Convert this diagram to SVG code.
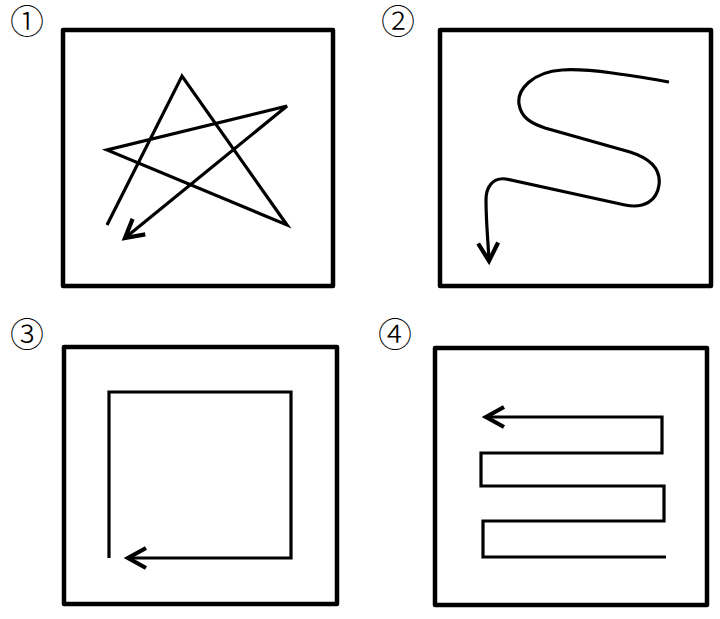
<svg xmlns="http://www.w3.org/2000/svg" width="720" height="619" viewBox="0 0 720 619">
<style>
.frame{fill:none;stroke:#000;stroke-width:4.5;stroke-linejoin:round}
.route{fill:none;stroke:#000;stroke-width:3.2;stroke-linejoin:miter;marker-end:url(#arr)}
.num{font-family:"Noto Sans CJK JP",sans-serif;font-size:34px;font-weight:300;fill:#000;text-anchor:middle;dominant-baseline:central}
</style>
<defs>
<marker id="arr" markerUnits="userSpaceOnUse" markerWidth="30" markerHeight="30" viewBox="-22 -15 30 30" refX="0" refY="0" orient="auto" overflow="visible">
<path d="M-18,-10 L0,0 L-18,10" fill="none" stroke="#000" stroke-width="4.2" stroke-linejoin="miter"/>
</marker>
</defs>
<rect width="720" height="619" fill="#fff"/>
<g id="panel1">
<text class="num" x="27" y="19">①</text>
<rect class="frame" x="63" y="30" width="270" height="256"/>
</g>
<g id="panel2">
<text class="num" x="398" y="19">②</text>
<rect class="frame" x="440" y="30" width="271" height="256"/>
</g>
<g id="panel3">
<text class="num" x="27" y="332">③</text>
<rect class="frame" x="64" y="347" width="273" height="257"/>
</g>
<g id="panel4">
<text class="num" x="395" y="332">④</text>
<rect class="frame" x="435" y="348" width="272" height="257"/>
</g>
<g id="connectors">
<path class="route" d="M107,225 L182,76 L287,225 L107,150 L287,106 L125,238"/>
<path class="route" d="M669,82 C640,77 590,68 562,70 C532,72 517,90 519,104 C521,117 530,123 545,128 L630,152 C652,159 661,170 659,185 C657,200 645,209 625,205 L506,179 C492,177 486,188 486,200 C486,222 488,240 489,261"/>
<path class="route" d="M109,558 L109,392 L291,392 L291,558 L128,558"/>
<path class="route" d="M666,557 L483,557 L483,521 L664,521 L664,486 L481,486 L481,453 L662,453 L662,417 L486,417"/>
</g>
</svg>
